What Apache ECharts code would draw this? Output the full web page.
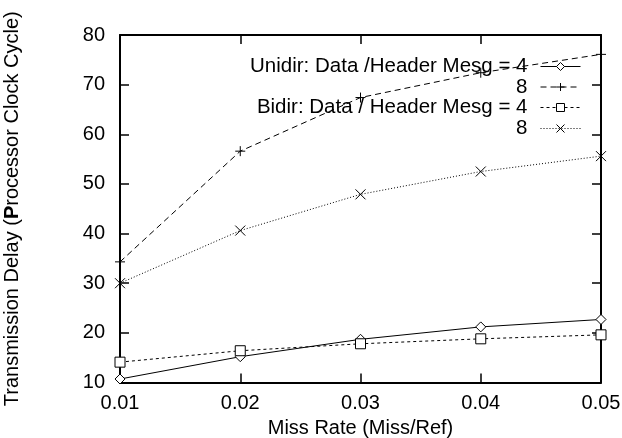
<!DOCTYPE html>
<html><head><meta charset="utf-8">
<script src="https://cdn.jsdelivr.net/npm/echarts@6/dist/echarts.min.js"></script>
<style>html,body{margin:0;padding:0;background:#fff}#c{width:622px;height:438px}</style>
</head><body><div id="c"></div>
<script>
const missRates = [0.01, 0.02, 0.03, 0.04, 0.05];
const unidir4 = [10.7, 15.2, 18.7, 21.2, 22.7];
const unidir8 = [34.3, 56.6, 67.4, 72.4, 76.1];
const bidir4 = [14.1, 16.4, 17.8, 18.8, 19.6];
const bidir8 = [30.0, 40.6, 47.9, 52.5, 55.6];
const seriesNames = ['Unidir: Data /Header Mesg = 4', 'Unidir 8', 'Bidir: Data / Header Mesg = 4', 'Bidir 8'];
const legendLabels = ['Unidir: Data /Header Mesg = 4', '8', 'Bidir: Data / Header Mesg = 4', '8'];
const xTicks = [0.01, 0.02, 0.03, 0.04, 0.05];
const yMin = 10, yMax = 80, yStep = 10;

const FONT = 'Liberation Sans, Arial, Helvetica, sans-serif';
const plusPath = 'path://M0,5L10,5M5,0L5,10';
const crossPath = 'path://M0,0L10,10M10,0L0,10';

function pairs(vals){ return missRates.map((x,i)=>[x, vals[i]]); }

const seriesDefs = [
  {data: unidir4, symbol: 'diamond', size: 10, line: 'solid', fill: '#fff'},
  {data: unidir8, symbol: plusPath, size: 10, line: [6,4], fill: 'none'},
  {data: bidir4, symbol: 'rect', size: 10, line: [3,3], fill: '#fff'},
  {data: bidir8, symbol: crossPath, size: 10, line: [1,2], fill: 'none'}
];

const chart = echarts.init(document.getElementById('c'), null, {renderer: 'canvas'});
const legendTops = [56, 76.5, 97, 118];
chart.setOption({
  animation: false,
  textStyle: {fontFamily: FONT},
  grid: {left: 120, right: 21, top: 35, bottom: 55.5, containLabel: false, outerBoundsMode: 'none'},
  legend: seriesNames.map((n, i) => ({
    data: [n], right: 41, top: legendTops[i], orient: 'vertical', align: 'right',
    padding: 0, itemWidth: 40, itemHeight: 10,
    formatter: () => legendLabels[i],
    lineStyle: {width: 1},
    itemStyle: {borderWidth: 1},
    textStyle: {fontFamily: FONT, fontSize: 20.5, color: '#000', lineHeight: 20, padding: [0, 8, 0, 0]},
    selectedMode: false
  })),
  xAxis: [
    {type: 'value', min: xTicks[0], max: xTicks[xTicks.length-1], interval: 0.01, position: 'bottom',
     axisLine: {lineStyle: {color: '#000', width: 2}},
     axisTick: {inside: true, length: 9, lineStyle: {color: '#000', width: 1.5}},
     axisLabel: {color: '#000', fontSize: 20, fontFamily: FONT, margin: 11, formatter: v => v.toFixed(2)},
     splitLine: {show: false},
     name: 'Miss Rate (Miss/Ref)', nameLocation: 'middle', nameGap: 30,
     nameTextStyle: {color: '#000', fontSize: 20, fontFamily: FONT, verticalAlign: 'top'}},
    {type: 'value', min: xTicks[0], max: xTicks[xTicks.length-1], interval: 0.01, position: 'top',
     axisLine: {lineStyle: {color: '#000', width: 2}},
     axisTick: {inside: true, length: 9, lineStyle: {color: '#000', width: 1.5}},
     axisLabel: {show: false}, splitLine: {show: false}}
  ],
  yAxis: [
    {type: 'value', min: yMin, max: yMax, interval: yStep, position: 'left',
     axisLine: {show: true, lineStyle: {color: '#000', width: 2}},
     axisTick: {show: true, inside: true, length: 9, lineStyle: {color: '#000', width: 1.5}},
     axisLabel: {color: '#000', fontSize: 20, fontFamily: FONT, margin: 15},
     splitLine: {show: false},
     name: 'Transmission Delay ({b|P}rocessor Clock Cycle)', nameLocation: 'middle', nameGap: 98,
     nameTextStyle: {color: '#000', fontSize: 20, fontFamily: FONT,
       rich: {b: {fontWeight: 'bold', fontSize: 20, fontFamily: FONT, color: '#000'}}}},
    {type: 'value', min: yMin, max: yMax, interval: yStep, position: 'right',
     axisLine: {show: true, lineStyle: {color: '#000', width: 2}},
     axisTick: {show: true, inside: true, length: 9, lineStyle: {color: '#000', width: 1.5}},
     axisLabel: {show: false}, splitLine: {show: false}}
  ],
  series: seriesDefs.map((d, i) => ({
    name: seriesNames[i], type: 'line', data: pairs(d.data),
    symbol: d.symbol, symbolSize: d.size, showSymbol: true,
    lineStyle: {color: '#000', width: 1, type: d.line},
    itemStyle: {color: d.fill, borderColor: '#000', borderWidth: 1},
    emphasis: {disabled: true}, z: 3
  }))
});
</script></body></html>
